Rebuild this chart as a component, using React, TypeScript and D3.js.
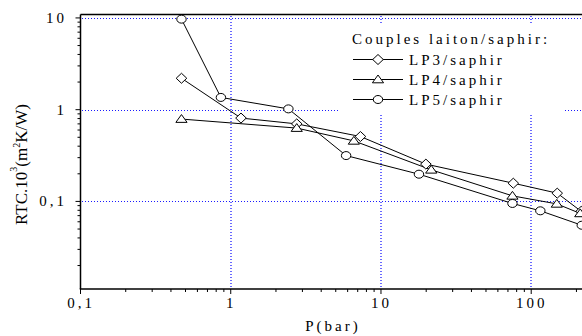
import { useEffect, useRef } from 'react';
import * as d3 from 'd3';

// pressure (bar) and RTC.10^3 (m²K/W)
const lp3Pressure = [0.47, 1.17, 2.75, 7.3, 19.9, 76, 149, 215];
const lp3Rtc = [2.2, 0.81, 0.7, 0.51, 0.255, 0.158, 0.123, 0.078];
const lp4Pressure = [0.47, 2.75, 6.6, 21.6, 75, 148, 212];
const lp4Rtc = [0.79, 0.63, 0.457, 0.221, 0.115, 0.094, 0.074];
const lp5Pressure = [0.47, 0.86, 2.42, 5.86, 17.9, 75, 115, 217];
const lp5Rtc = [9.7, 1.36, 1.02, 0.316, 0.198, 0.095, 0.079, 0.055];

const seriesNames = ['LP3/saphir', 'LP4/saphir', 'LP5/saphir'];
const markerKinds = ['diamond', 'triangle', 'circle'];

const xTicks = [0.1, 1, 10, 100];
const xTickLabels = ['0,1', '1', '10', '100'];
const yTicks = [0.1, 1, 10];
const yTickLabels = ['0,1', '1', '10'];

const serif = "'Liberation Serif', 'Times New Roman', serif";

const markerPath = (kind: string) => {
  if (kind === 'diamond') return 'M0,-5L5.3,0L0,5L-5.3,0Z';
  return 'M0,-4.5L5.6,3.3L-5.6,3.3Z';
};

const App = () => {
  const svgRef = useRef<SVGSVGElement>(null);

  useEffect(() => {
    const width = 582;
    const height = 336;
    const svg = d3.select(svgRef.current);
    svg.selectAll('*').remove();
    svg.attr('width', width).attr('height', height);

    const x = d3.scaleLog().domain([0.1, 250]).range([80.5, 591]);
    const y = d3.scaleLog().domain([0.0111, 10.9]).range([289, 14.5]);
    const [x0, x1] = x.range();
    const [y0, y1] = y.range();

    // blue dotted grid at each decade
    const grid = svg.append('g')
      .attr('stroke', '#1a1aff')
      .attr('stroke-width', 1);
    xTicks.slice(1).forEach(v => {
      const gx = Math.round(x(v));
      grid.append('line')
        .attr('x1', gx).attr('x2', gx)
        .attr('y1', 16).attr('y2', 288)
        .attr('stroke-width', 1.3)
        .attr('stroke-dasharray', '1,2');
    });
    yTicks.forEach(v => {
      const gy = Math.round(y(v)) + 0.5;
      grid.append('line')
        .attr('x1', 82).attr('x2', x1)
        .attr('y1', gy).attr('y2', gy)
        .attr('stroke-dasharray', '1,2');
    });

    // legend background hides the grid
    svg.append('rect')
      .attr('x', 338).attr('y', 25).attr('width', 227).attr('height', 88)
      .attr('fill', '#fff');

    // frame
    const frame = svg.append('g').attr('stroke', '#000').attr('stroke-width', 1.5);
    frame.append('line').attr('x1', x0).attr('x2', x0).attr('y1', y1).attr('y2', y0);
    frame.append('line').attr('x1', x0).attr('x2', x1).attr('y1', y1).attr('y2', y1);
    frame.append('line').attr('x1', x0 - 0.75).attr('x2', x1).attr('y1', y0).attr('y2', y0);

    // minor + major ticks
    const ticks = svg.append('g').attr('stroke', '#000').attr('stroke-width', 1);
    for (let e = -2; e <= 2; e++) {
      for (let k = 1; k <= 9; k++) {
        const v = k * Math.pow(10, e);
        const len = k === 1 ? 5 : 3;
        if (v >= 0.1 && v <= 250) {
          ticks.append('line')
            .attr('x1', x(v)).attr('x2', x(v))
            .attr('y1', y0).attr('y2', y0 + len);
        }
        if (v >= 0.0111 && v <= 10.9) {
          ticks.append('line')
            .attr('x1', x0 - len).attr('x2', x0)
            .attr('y1', y(v)).attr('y2', y(v));
        }
      }
    }

    const text = svg.append('g')
      .attr('font-family', serif)
      .attr('font-size', 15)
      .attr('letter-spacing', 3)
      .attr('fill', '#000');

    xTicks.forEach((v, i) => {
      text.append('text')
        .attr('x', x(v) + 0.5).attr('y', 308)
        .attr('text-anchor', 'middle')
        .text(xTickLabels[i]);
    });
    yTicks.forEach((v, i) => {
      text.append('text')
        .attr('x', 67).attr('y', y(v) + 5)
        .attr('text-anchor', 'end')
        .text(yTickLabels[i]);
    });

    text.append('text')
      .attr('x', 333).attr('y', 331)
      .attr('text-anchor', 'middle')
      .text('P(bar)');

    const yLabel = svg.append('text')
      .attr('transform', 'translate(27,164.5) rotate(-90)')
      .attr('text-anchor', 'middle')
      .attr('font-family', serif)
      .attr('font-size', 17);
    yLabel.append('tspan').text('RTC.10');
    yLabel.append('tspan').attr('font-size', 10).attr('dy', -10).text('3');
    yLabel.append('tspan').attr('dy', 10).text('(m');
    yLabel.append('tspan').attr('font-size', 10).attr('dy', -7).text('2');
    yLabel.append('tspan').attr('dy', 7).text('K/W)');

    // series
    const series = [
      lp3Pressure.map((p, i) => [p, lp3Rtc[i]]),
      lp4Pressure.map((p, i) => [p, lp4Rtc[i]]),
      lp5Pressure.map((p, i) => [p, lp5Rtc[i]]),
    ];
    const line = d3.line<number[]>().x(d => x(d[0])).y(d => y(d[1]));

    const drawMarker = (g: any, kind: string, cx: number, cy: number) => {
      if (kind === 'circle') {
        g.append('ellipse')
          .attr('cx', cx).attr('cy', cy).attr('rx', 4.7).attr('ry', 4)
          .attr('fill', '#fff').attr('stroke', '#000').attr('stroke-width', 1);
      } else {
        g.append('path')
          .attr('d', markerPath(kind))
          .attr('transform', `translate(${cx},${cy})`)
          .attr('fill', '#fff').attr('stroke', '#000').attr('stroke-width', 1);
      }
    };

    series.forEach(data => {
      svg.append('path')
        .attr('d', line(data))
        .attr('fill', 'none')
        .attr('stroke', '#000')
        .attr('stroke-width', 1);
    });
    series.forEach((data, s) => {
      const g = svg.append('g');
      data.forEach(d => drawMarker(g, markerKinds[s], x(d[0]), y(d[1])));
    });

    // legend
    text.append('text').attr('x', 352).attr('y', 44).text('Couples laiton/saphir:');
    seriesNames.forEach((name, i) => {
      const cy = 59.5 + i * 20;
      const g = svg.append('g');
      g.append('line')
        .attr('x1', 353).attr('x2', 403).attr('y1', cy).attr('y2', cy)
        .attr('stroke', '#000').attr('stroke-width', 1);
      drawMarker(g, markerKinds[i], 378, cy);
      text.append('text').attr('x', 409).attr('y', cy + 5).text(name);
    });
  }, []);

  return <svg ref={svgRef} style={{ position: 'absolute', left: 0, top: 0 }} />;
};

export default App;
